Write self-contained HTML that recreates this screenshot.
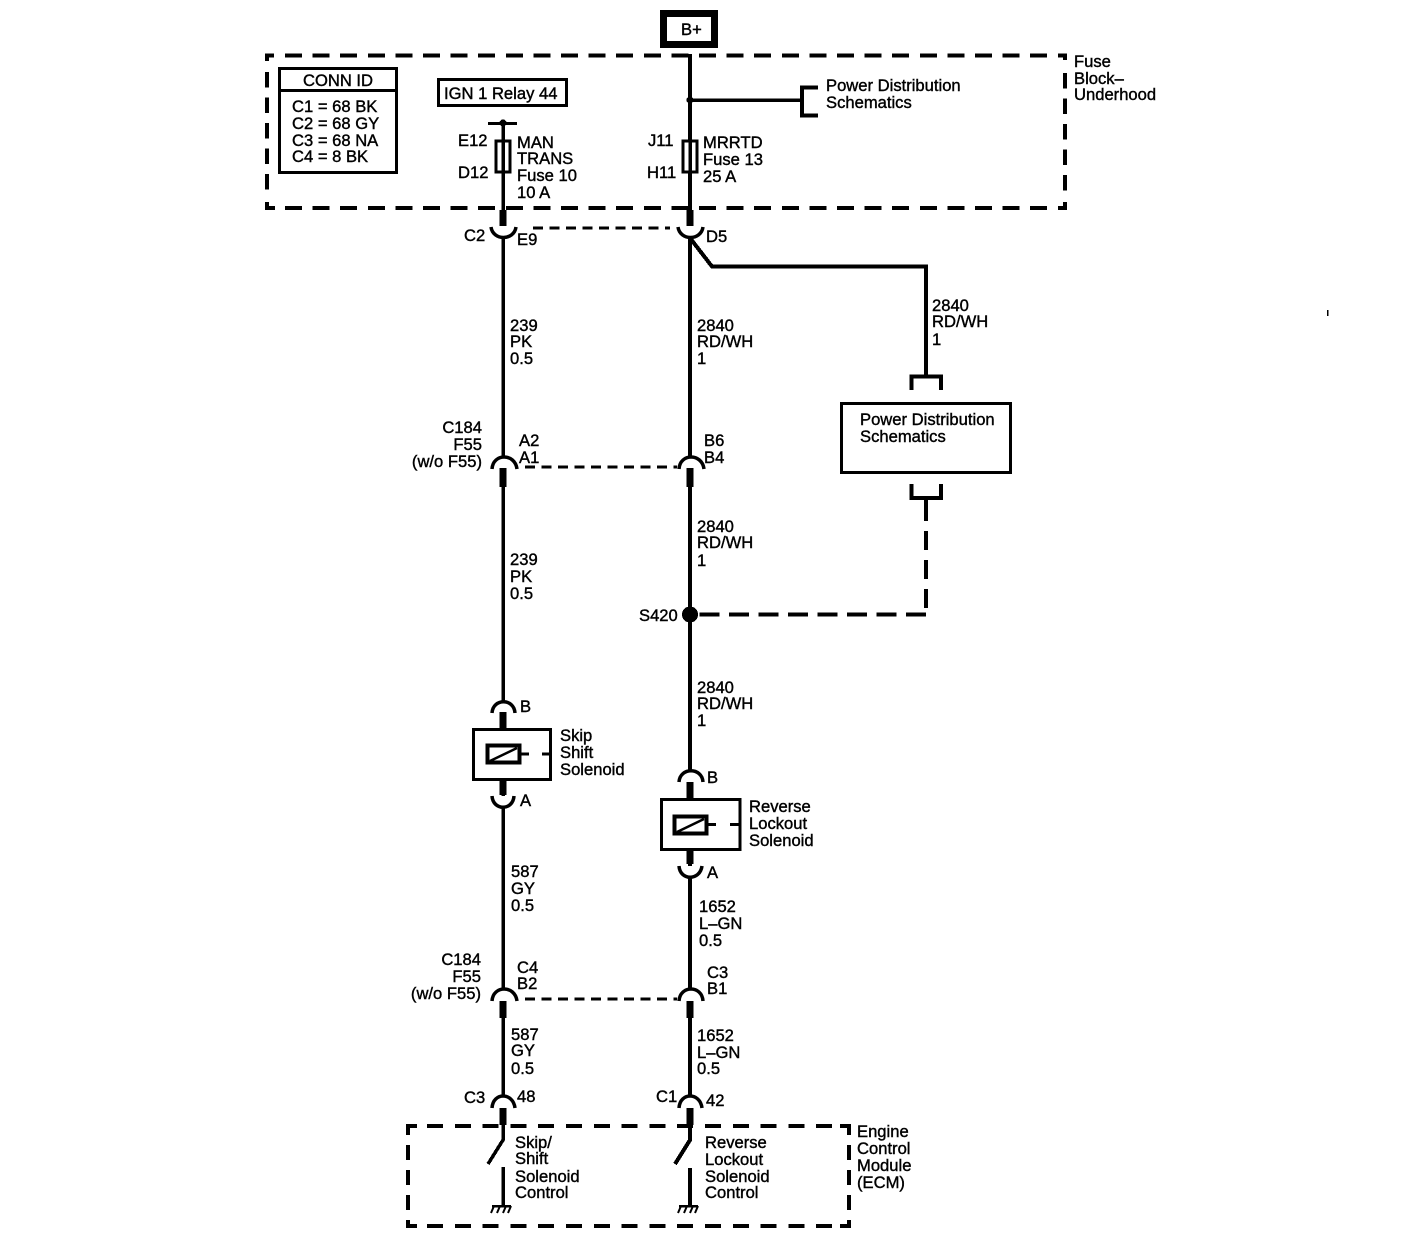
<!DOCTYPE html>
<html><head><meta charset="utf-8"><style>
html,body{margin:0;padding:0;background:#fff}
svg{display:block}
text{font-family:"Liberation Sans",sans-serif;font-size:16.6px;fill:#000;stroke:#000;stroke-width:.4}
.e{text-anchor:end}
.m{text-anchor:middle}
path,rect,line,circle{shape-rendering:crispEdges}
.a{fill:none;stroke:#000;stroke-width:3.5;shape-rendering:auto}
</style></head><body>
<svg width="1408" height="1240" viewBox="0 0 1408 1240" xmlns="http://www.w3.org/2000/svg">
<g fill="none" stroke="#000">
<!-- B+ -->
<rect x="663.5" y="13.5" width="51" height="31" stroke-width="7"/>
<!-- Fuse block dashed -->
<path d="M285 55.500H1052" stroke-width="4" stroke-dasharray="17 10.600"/>
<path d="M285 208H1052" stroke-width="4" stroke-dasharray="17 10.600"/>
<path d="M267 72V195" stroke-width="4" stroke-dasharray="15.500 10"/>
<path d="M1065 73V195" stroke-width="4" stroke-dasharray="15.500 10"/>
<path d="M267 61V55.500H274M267 202V208H275M1058 55.500H1065V60M1058 208H1065V202" stroke-width="4"/>
<!-- Conn ID -->
<rect x="279.500" y="68.500" width="117" height="104" stroke-width="3"/>
<path d="M279 90.500H397" stroke-width="3"/>
<!-- IGN -->
<rect x="438.500" y="79.500" width="128" height="26" stroke-width="3"/>
<!-- Wires left -->
<path d="M503 123V226M503 238V457M503 469V702M503 713V728M503 781V796M503 807V989M503 1001V1097M503 1108V1140L488 1164M503 1167V1206" stroke-width="3.500"/>
<path d="M488 123.500H517" stroke-width="3"/>
<!-- Wires right -->
<path d="M690 54V226M690 238V457M690 469V771M690 782V798M690 851V866M690 878V989M690 1001V1097M690 1108V1140L675 1164M690 1168V1206" stroke-width="4"/>
<path d="M690 100H801" stroke-width="3.500"/>
<path d="M818 87.500H802V115.500H818" stroke-width="4"/>
<path d="M690 238L712 266.500H926V376" stroke-width="4" stroke-linejoin="miter"/>
<!-- Thick stubs -->
<path d="M503 210V226M690 210V226M503 468V487M690 468V487M503 712V728M503 781V795M690 782V798M690 851V864M503 1001V1018M690 1001V1018M503 1108V1125M690 1108V1125" stroke-width="7"/>
<!-- Fuses -->
<rect x="496" y="141" width="14" height="31" fill="#fff" stroke-width="3"/>
<rect x="683" y="141" width="14" height="31" fill="#fff" stroke-width="3"/>
<path d="M503 139V174M690 139V174" stroke-width="3.500"/>
<!-- Connector dashes -->
<path d="M533 228H670" stroke-width="2.800" stroke-dasharray="10 6.500"/>
<path d="M525 467H677" stroke-width="3.200" stroke-dasharray="10 6.500"/>
<path d="M525 999H677" stroke-width="3.200" stroke-dasharray="10 6.500"/>
<!-- Power Distribution -->
<rect x="841.500" y="403.500" width="169" height="69" stroke-width="3"/>
<path d="M911.500 390V376.500H941V390" stroke-width="4"/>
<path d="M911.500 484V498H941V484M926 498V512" stroke-width="4"/>
<path d="M926 502V614" stroke-width="4" stroke-dasharray="19 10"/>
<path d="M926 614.500H698" stroke-width="4" stroke-dasharray="20 9.500"/>
<!-- Solenoids -->
<rect x="473.500" y="729.500" width="77" height="50" stroke-width="3"/>
<rect x="661.500" y="799.500" width="78.500" height="50" stroke-width="3"/>
<rect x="487.500" y="745.500" width="32" height="17" fill="#fff" stroke-width="4"/>
<rect x="674.500" y="816.500" width="32" height="17" fill="#fff" stroke-width="4"/>
<path d="M490 761L517 748M677 832L704 819" stroke-width="2.500" style="shape-rendering:auto"/>
<path d="M521 754H529M542 754H552M708 824.500H716M730 824.500H741" stroke-width="3"/>
<!-- ECM dashed -->
<path d="M427 1126H838" stroke-width="4" stroke-dasharray="16 11.800"/>
<path d="M427 1226H838" stroke-width="4" stroke-dasharray="16 11.800"/>
<path d="M408 1145V1212" stroke-width="4" stroke-dasharray="15 10"/>
<path d="M849 1145V1212" stroke-width="4" stroke-dasharray="15 10"/>
<path d="M408 1135V1126H417M408 1220V1226H417M840 1126H849V1135M840 1226H849V1220" stroke-width="4"/>
<!-- Grounds -->
<path d="M492 1206H511M679 1206H698" stroke-width="2.500"/>
<path d="M494 1206L491 1213M500 1206L497 1213M506 1206L503 1213M511 1206L508 1213M681 1206L678 1213M687 1206L684 1213M693 1206L690 1213M698 1206L695 1213" stroke-width="2" style="shape-rendering:auto"/>
<!-- Arcs, facing up -->
<path class="a" d="M492 713C493 698 514 698 515 713"/>
<path class="a" d="M492 469C493 453 515 453 517 469"/>
<path class="a" d="M679 469C680 453 702 453 704 469"/>
<path class="a" d="M679 782C680 767 702 767 703 782"/>
<path class="a" d="M492 1001C493 985 515 985 517 1001"/>
<path class="a" d="M679 1001C680 985 702 985 703 1001"/>
<path class="a" d="M492 1108C493 1092 513 1092 515 1108"/>
<path class="a" d="M679 1108C680 1092 700 1092 702 1108"/>
<!-- Arcs, facing down -->
<path class="a" d="M491 227C493 241 514 241 516 227"/>
<path class="a" d="M678 227C680 241 701 241 703 227"/>
<path class="a" d="M492 796C493 811 513 811 514 796"/>
<path class="a" d="M679 866C680 881 700 881 702 866"/>
</g>
<circle cx="503" cy="123" r="3.500"/>
<circle cx="690" cy="100" r="3.500"/>
<circle cx="690" cy="614.500" r="8"/>
<rect x="1327" y="310" width="1.500" height="6"/>

<text x="681" y="35">B+</text>
<text x="338" y="86" class="m">CONN ID</text>
<text x="292" y="112">C1 = 68 BK</text>
<text x="292" y="129">C2 = 68 GY</text>
<text x="292" y="146">C3 = 68 NA</text>
<text x="292" y="162">C4 = 8 BK</text>
<text x="444" y="99">IGN 1 Relay 44</text>
<text x="458" y="146">E12</text>
<text x="458" y="178">D12</text>
<text x="517" y="148">MAN</text>
<text x="517" y="164">TRANS</text>
<text x="517" y="181">Fuse 10</text>
<text x="517" y="198">10 A</text>
<text x="648" y="146">J11</text>
<text x="647" y="178">H11</text>
<text x="703" y="148">MRRTD</text>
<text x="703" y="165">Fuse 13</text>
<text x="703" y="182">25 A</text>
<text x="826" y="91">Power Distribution</text>
<text x="826" y="108">Schematics</text>
<text x="1074" y="67">Fuse</text>
<text x="1074" y="84">Block–</text>
<text x="1074" y="100">Underhood</text>
<text x="464" y="241">C2</text>
<text x="517" y="245">E9</text>
<text x="706" y="242">D5</text>
<text x="510" y="331">239</text>
<text x="510" y="347">PK</text>
<text x="510" y="364">0.5</text>
<text x="697" y="331">2840</text>
<text x="697" y="347">RD/WH</text>
<text x="697" y="364">1</text>
<text x="932" y="311">2840</text>
<text x="932" y="327">RD/WH</text>
<text x="932" y="345">1</text>
<text x="860" y="425">Power Distribution</text>
<text x="860" y="442">Schematics</text>
<text x="482" y="433" class="e">C184</text>
<text x="482" y="450" class="e">F55</text>
<text x="482" y="467" class="e">(w/o F55)</text>
<text x="519" y="446">A2</text>
<text x="519" y="463">A1</text>
<text x="704" y="446">B6</text>
<text x="704" y="463">B4</text>
<text x="510" y="565">239</text>
<text x="510" y="582">PK</text>
<text x="510" y="599">0.5</text>
<text x="697" y="532">2840</text>
<text x="697" y="548">RD/WH</text>
<text x="697" y="566">1</text>
<text x="639" y="621">S420</text>
<text x="697" y="693">2840</text>
<text x="697" y="709">RD/WH</text>
<text x="697" y="726">1</text>
<text x="520" y="712">B</text>
<text x="520" y="806">A</text>
<text x="560" y="741">Skip</text>
<text x="560" y="758">Shift</text>
<text x="560" y="775">Solenoid</text>
<text x="707" y="783">B</text>
<text x="707" y="878">A</text>
<text x="749" y="812">Reverse</text>
<text x="749" y="829">Lockout</text>
<text x="749" y="846">Solenoid</text>
<text x="511" y="877">587</text>
<text x="511" y="894">GY</text>
<text x="511" y="911">0.5</text>
<text x="699" y="912">1652</text>
<text x="699" y="929">L–GN</text>
<text x="699" y="946">0.5</text>
<text x="481" y="965" class="e">C184</text>
<text x="481" y="982" class="e">F55</text>
<text x="481" y="999" class="e">(w/o F55)</text>
<text x="517" y="973">C4</text>
<text x="517" y="989">B2</text>
<text x="707" y="978">C3</text>
<text x="707" y="994">B1</text>
<text x="511" y="1040">587</text>
<text x="511" y="1056">GY</text>
<text x="511" y="1074">0.5</text>
<text x="697" y="1041">1652</text>
<text x="697" y="1058">L–GN</text>
<text x="697" y="1074">0.5</text>
<text x="464" y="1103">C3</text>
<text x="517" y="1102">48</text>
<text x="656" y="1102">C1</text>
<text x="706" y="1106">42</text>
<text x="515" y="1148">Skip/</text>
<text x="515" y="1164">Shift</text>
<text x="515" y="1182">Solenoid</text>
<text x="515" y="1198">Control</text>
<text x="705" y="1148">Reverse</text>
<text x="705" y="1165">Lockout</text>
<text x="705" y="1182">Solenoid</text>
<text x="705" y="1198">Control</text>
<text x="857" y="1137">Engine</text>
<text x="857" y="1154">Control</text>
<text x="857" y="1171">Module</text>
<text x="857" y="1188">(ECM)</text>
</svg>
</body></html>
